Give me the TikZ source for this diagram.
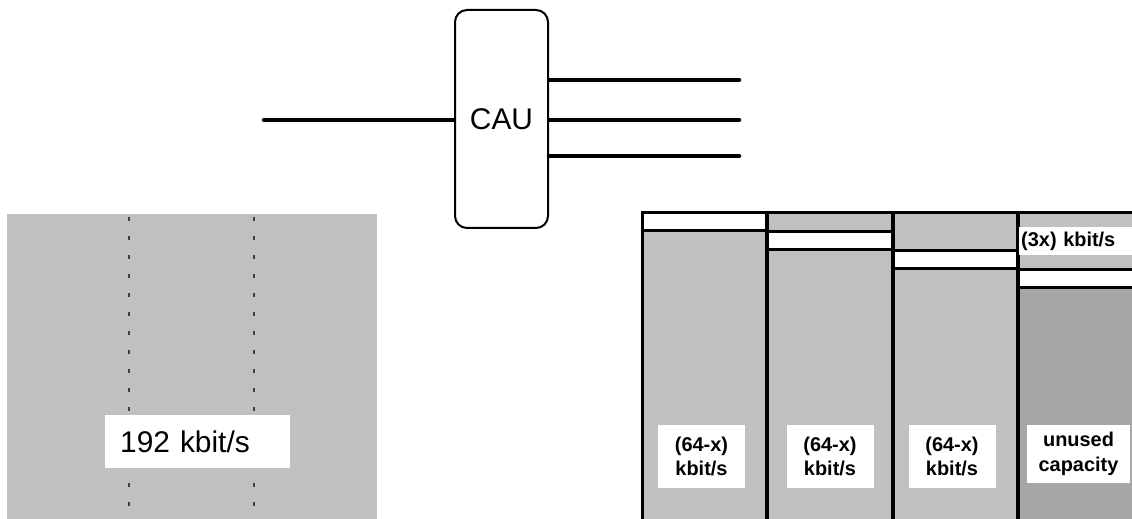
\documentclass[tikz,border=0pt]{standalone}
\usepackage{fontspec}
\setmainfont{Liberation Sans}
\usetikzlibrary{positioning, calc}
\definecolor{chgray}{HTML}{C0C0C0}
\definecolor{freegray}{HTML}{A6A6A6}
\definecolor{dotgray}{HTML}{404040}

\begin{document}
\begin{tikzpicture}[x=1bp, y=-1bp]
    \tikzstyle{cauunit} = [rectangle, rounded corners=12bp, minimum width=93bp, minimum height=218bp, draw=black, line width=2bp, font=\fontsize{30}{36}\selectfont]
    \tikzstyle{link} = [line width=4.5bp, line cap=round]
    \tikzstyle{channel} = [fill=chgray, draw=black, line width=3bp]
    \tikzstyle{band} = [fill=white, draw=black, line width=3bp]
    \tikzstyle{boldlabel} = [fill=white, minimum width=87bp, minimum height=63bp, align=center, inner sep=0pt, font=\bfseries\fontsize{20}{25}\selectfont]
    \useasboundingbox (0,0) rectangle (1132,519);
    % CAU with one line in, three lines out
    \node (cau) [cauunit] at (501.5,119) {CAU};
    \coordinate (in) at (264,120);
    \coordinate (out1) at (739,80);
    \coordinate (out2) at (739,120);
    \coordinate (out3) at (739,156);
    \draw [link] (in) -- (in -| cau.west);
    \foreach \i in {1,2,3}
        \draw [link] (cau.east |- out\i) -- (out\i);
    % 192 kbit/s block
    \fill [chgray] (7,214) rectangle (377,519);
    \foreach \x in {129,254}
        \draw [dotgray, line width=1.2bp, dash pattern=on 4bp off 15bp] (\x,217) -- (\x,519);
    \node (total) [fill=white, anchor=north west, minimum width=185bp, minimum height=53bp, text width=155bp, inner xsep=15bp, align=left, font=\fontsize{30}{36}\selectfont] at (105,415) {192 kbit/s};
    % channels
    \foreach \xa/\xb/\yb in {642/766/213, 767/892/232, 893/1017/251}{
        \draw [channel] (\xa,213) rectangle (\xb,525);
        \draw [band] (\xa,\yb) rectangle (\xb,\yb+18);
    }
    \draw [channel] (1018,213) rectangle (1145,525);
    \draw [channel, fill=freegray] (1018,288) rectangle (1145,525);
    \draw [band] (1018,270) rectangle (1145,288);
    \node (share1) [boldlabel] at (701.5,456.5) {(64-x)\\kbit/s};
    \node (share2) [boldlabel] at (830,456.5) {(64-x)\\kbit/s};
    \node (share3) [boldlabel] at (952,456.5) {(64-x)\\kbit/s};
    \node (unused) [boldlabel, minimum width=103bp, minimum height=58bp] at (1078.5,454) {unused\\capacity};
    \node (overhead) [fill=white, anchor=west, minimum height=28bp, text width=118bp, inner xsep=2bp, inner ysep=0pt, align=left, font=\bfseries\fontsize{20}{24}\selectfont] at (1019,241) {(3x) kbit/s};
\end{tikzpicture}
\end{document}
